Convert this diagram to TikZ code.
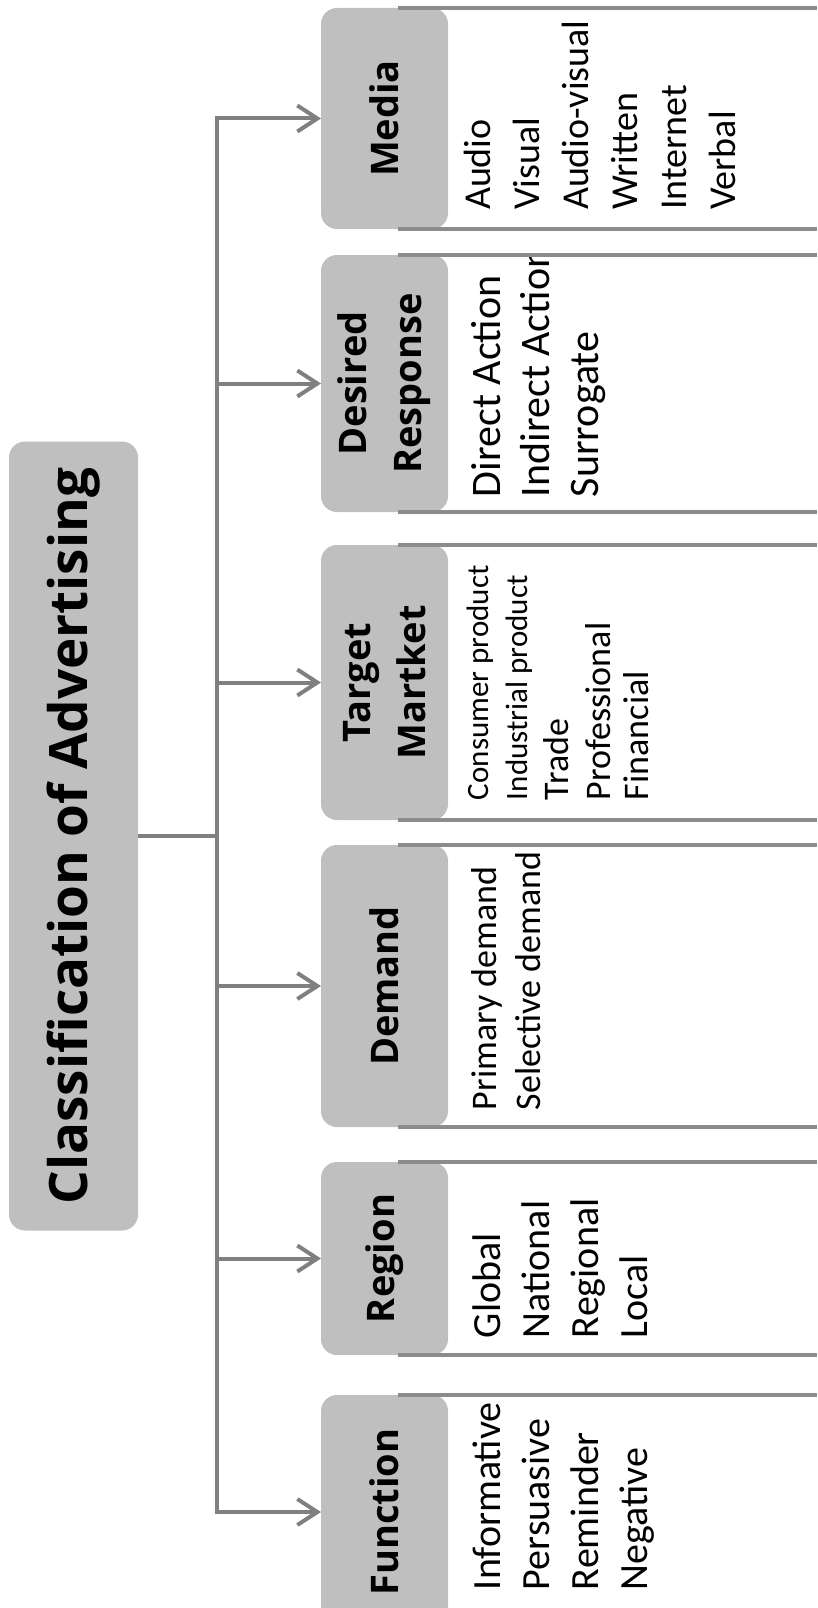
\documentclass[tikz,border=0pt]{standalone}
\usepackage{fontspec}
\setmainfont{Carlito}
\newfontfamily\headfont{Open Sans}
\usetikzlibrary{arrows.meta}
\definecolor{boxgray}{HTML}{BFBFBF}
\definecolor{linegray}{HTML}{8C8C8C}
\definecolor{arrowgray}{HTML}{808080}

\begin{document}
\begin{tikzpicture}[x=1pt,y=1pt]
\tikzset{inner sep=0pt, outer sep=0pt}
\tikzset{
  catbox/.style={rotate=90, fill=boxgray, rounded corners=16pt, minimum height=127pt,
    align=center, font=\headfont\bfseries\fontsize{38}{55}\selectfont},
  item/.style={rotate=90, anchor=base west, font=\fontsize{40}{48}\selectfont},
  link/.style={draw=arrowgray, line width=4pt},
  arr/.style={link, -{Straight Barb[length=20pt,width=26pt]}},
  panel/.style={draw=linegray, line width=4pt},
}

\useasboundingbox (0,0) rectangle (817,-1608);

\node[catbox, minimum width=789pt, minimum height=129pt,
  font=\headfont\bfseries\fontsize{53}{60}\selectfont] (title) at (73.5,-836) {Classification of Advertising};

\node[catbox, minimum width=221pt] (media) at (384.5,-118.5) {Media};
\node[catbox, minimum width=257pt] (response) at (384.5,-383.5) {Desired\\Response};
\node[catbox, minimum width=275pt] (target) at (384.5,-682.5) {Target\\Martket};
\node[catbox, minimum width=282pt] (demand) at (384.5,-986) {Demand};
\node[catbox, minimum width=193pt] (region) at (384.5,-1258.5) {Region};
\node[catbox, minimum width=234pt] (function) at (384.5,-1512) {Function};

\coordinate (spine) at (217,0);
\coordinate (edge) at (817,0);

\draw[link] (title.south) -- (title.south -| spine);
\draw[link, line cap=rect] (spine |- media.north) -- (spine |- function.north);
\draw[arr] (spine |- media.north) -- (media.north);
\draw[arr] (spine |- response.north) -- (response.north);
\draw[arr] (spine |- target.north) -- (target.north);
\draw[arr] (spine |- demand.north) -- (demand.north);
\draw[arr] (spine |- region.north) -- (region.north);
\draw[arr] (spine |- function.north) -- (function.north);

% media
\node[item, font=\fontsize{38}{48}\selectfont] (media1) at (490,-210) {Audio};
\node[item, font=\fontsize{38}{48}\selectfont] (media2) at (539,-210) {Visual};
\node[item, font=\fontsize{38}{48}\selectfont] (media3) at (588,-210) {Audio-visual};
\node[item, font=\fontsize{38}{48}\selectfont] (media4) at (637,-210) {Written};
\node[item, font=\fontsize{38}{48}\selectfont] (media5) at (686,-210) {Internet};
\node[item, font=\fontsize{38}{48}\selectfont] (media6) at (735,-210) {Verbal};

% desired response
\begin{scope}
\clip (response.south east) rectangle (response.south west -| edge);
\node[item, font=\fontsize{42}{48}\selectfont] (response1) at (500,-497) {Direct Action};
\node[item, font=\fontsize{42}{48}\selectfont] (response2) at (549,-497) {Indirect Action};
\node[item, font=\fontsize{42}{48}\selectfont] (response3) at (598,-497) {Surrogate};
\end{scope}

% target market
\node[item, font=\fontsize{31}{40}\selectfont] (target1) at (488,-800) {Consumer product};
\node[item, font=\fontsize{31}{40}\selectfont] (target2) at (527,-800) {Industrial product};
\node[item, font=\fontsize{36}{40}\selectfont] (target3) at (568,-800) {Trade};
\node[item, font=\fontsize{36}{40}\selectfont] (target4) at (610,-800) {Professional};
\node[item, font=\fontsize{36}{40}\selectfont] (target5) at (648,-800) {Financial};

% demand
\node[item, font=\fontsize{36}{44}\selectfont] (demand1) at (496,-1110) {Primary demand};
\node[item, font=\fontsize{36}{44}\selectfont] (demand2) at (540,-1110) {Selective demand};

% region
\node[item] (region1) at (500,-1338) {Global};
\node[item] (region2) at (549,-1338) {National};
\node[item] (region3) at (598,-1338) {Regional};
\node[item] (region4) at (647,-1338) {Local};

% function
\node[item] (function1) at (500,-1590) {Informative};
\node[item] (function2) at (549,-1590) {Persuasive};
\node[item] (function3) at (598,-1590) {Reminder};
\node[item] (function4) at (647,-1590) {Negative};

\draw[panel] ([xshift=-50pt]media.south east) -- (media.south east -| edge);
\draw[panel] ([xshift=-50pt]media.south west) -- (media.south west -| edge);
\draw[panel] ([xshift=-50pt]response.south east) -- (response.south east -| edge);
\draw[panel] ([xshift=-50pt]response.south west) -- (response.south west -| edge);
\draw[panel] ([xshift=-50pt]target.south east) -- (target.south east -| edge);
\draw[panel] ([xshift=-50pt]target.south west) -- (target.south west -| edge);
\draw[panel] ([xshift=-50pt]demand.south east) -- (demand.south east -| edge);
\draw[panel] ([xshift=-50pt]demand.south west) -- (demand.south west -| edge);
\draw[panel] ([xshift=-50pt]region.south east) -- (region.south east -| edge);
\draw[panel] ([xshift=-50pt]region.south west) -- (region.south west -| edge);
\draw[panel] ([xshift=-50pt]function.south east) -- (function.south east -| edge);

\end{tikzpicture}
\end{document}
